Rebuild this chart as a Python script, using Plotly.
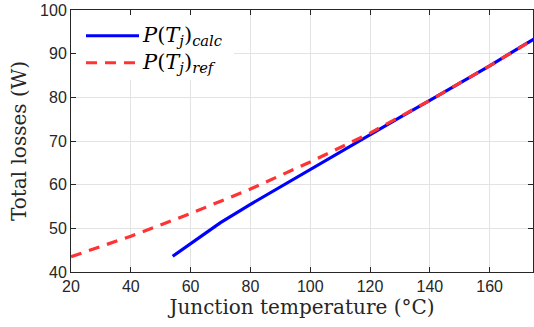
import plotly.graph_objects as go

# Data
t_calc = [54, 70, 80, 90, 100, 110, 120, 130, 140, 150, 160, 170, 175]
p_calc = [43.6, 51.3, 55.5, 59.5, 63.5, 67.6, 71.6, 75.4, 79.3, 83.2, 87.2, 91.4, 93.4]
t_ref = [20, 40, 60, 80, 100, 120, 140, 160, 175]
p_ref = [43.5, 48.2, 53.4, 59.0, 65.2, 71.8, 79.3, 87.2, 93.4]

x_ticks = [20, 40, 60, 80, 100, 120, 140, 160]
y_ticks = [40, 50, 60, 70, 80, 90, 100]

series_names = [
    "<i>P</i>(<i>T<sub>j</sub></i>)<sub><i>calc</i></sub>",
    "<i>P</i>(<i>T<sub>j</sub></i>)<sub><i>ref</i></sub>",
]
colors = ["#0000ff", "#ff3333"]
dashes = ["solid", "11px,8px"]

serif = "DejaVu Serif"
sans = "Liberation Sans"

X_RANGE = [20, 174.5]
Y_RANGE = [40, 100]

fig = go.Figure()
fig.add_trace(go.Scatter(x=t_calc, y=p_calc, mode="lines", name=series_names[0],
                         line=dict(color=colors[0], width=3.2, dash=dashes[0]), showlegend=False))
fig.add_trace(go.Scatter(x=t_ref, y=p_ref, mode="lines", name=series_names[1],
                         line=dict(color=colors[1], width=3.2, dash=dashes[1]), showlegend=False))

axis_common = dict(
    showline=True, linecolor="#262626", linewidth=1, mirror="ticks",
    ticks="inside", ticklen=5, tickcolor="#262626",
    showgrid=True, gridcolor="#e3e3e3", gridwidth=1,
    zeroline=False,
    tickfont=dict(family=sans, size=16, color="#262626"),
)

W, H = 534, 327
L, R, T, B = 71, 1, 10, 55
pw, ph = W - L - R, H - T - B

def fx(p):
    return (p - L) / pw

def fy(p):
    return (H - B - p) / ph

def dx(p):
    return X_RANGE[0] + fx(p) * (X_RANGE[1] - X_RANGE[0])

def dy(p):
    return Y_RANGE[0] + fy(p) * (Y_RANGE[1] - Y_RANGE[0])

# custom legend (white box, sample lines, labels)
shapes = [dict(type="rect", xref="x", yref="y", layer="between",
               x0=dx(72), x1=dx(234), y0=dy(80), y1=dy(10.5),
               fillcolor="white", line=dict(width=0))]
annotations = []
for i, (nm, c, d) in enumerate(zip(series_names, colors, dashes)):
    yy = fy(35.7 + 27 * i)
    shapes.append(dict(type="line", xref="paper", yref="paper", layer="above",
                       x0=fx(86), x1=fx(139), y0=yy, y1=yy,
                       line=dict(color=c, width=3, dash=d)))
    annotations.append(dict(xref="paper", yref="paper", x=fx(140), y=yy,
                            xanchor="left", yanchor="middle", showarrow=False,
                            text=nm, font=dict(family=serif, size=21, color="#000000")))

fig.update_layout(
    width=W, height=H,
    margin=dict(l=L, r=R, t=T, b=B),
    plot_bgcolor="white", paper_bgcolor="white",
    xaxis=dict(range=X_RANGE, tickvals=x_ticks,
               title=dict(text="Junction temperature (°C)", font=dict(family=serif, size=20, color="#262626"), standoff=4),
               **axis_common),
    yaxis=dict(range=Y_RANGE, tickvals=y_ticks,
               title=dict(text="Total losses (W)", font=dict(family=serif, size=20, color="#262626"), standoff=8),
               **axis_common),
    shapes=shapes,
    annotations=annotations,
    showlegend=False,
)

fig.write_html("out.html")
